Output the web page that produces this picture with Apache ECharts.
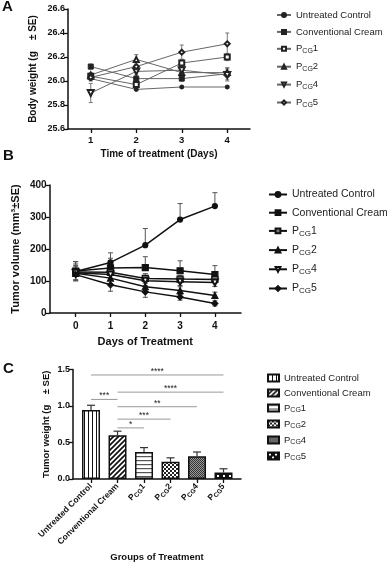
<!DOCTYPE html>
<html>
<head>
<meta charset="utf-8">
<script src="https://cdn.jsdelivr.net/npm/echarts@6/dist/echarts.min.js"></script>
<style>html,body{margin:0;padding:0;background:#fff}#chart{width:387px;height:564px}</style>
</head>
<body>
<div id="chart"></div>
<script>
var groups = ['Untreated Control', 'Conventional Cream', 'PCG1', 'PCG2', 'PCG4', 'PCG5']

// A - body weight per day
var daysA = [1, 2, 3, 4]
var bwUntreated = [26.02, 25.93, 25.95, 25.95]
var bwConv = [26.12, 26.02, 26.02, 26.06]
var bwP1 = [26.04, 25.97, 26.15, 26.20]
var bwP2 = [26.05, 26.18, 26.07, 26.07]
var bwP4 = [25.90, 26.08, 26.09, 26.05]
var bwP5 = [26.03, 26.12, 26.24, 26.31]
var bwErrUntreated = [0.02, 0.01, 0.01, 0.01]
var bwErrConv = [0.02, 0.02, 0.02, 0.05]
var bwErrP1 = [0.02, 0.02, 0.03, 0.03]
var bwErrP2 = [0.02, 0.04, 0.03, 0.04]
var bwErrP4 = [0.08, 0.03, 0.03, 0.05]
var bwErrP5 = [0.02, 0.02, 0.06, 0.09]

// B - tumor volume per day
var daysB = [0, 1, 2, 3, 4]
var tvUntreated = [130, 158, 212, 292, 334]
var tvConv = [131, 141, 142, 132, 120]
var tvP1 = [128, 127, 108, 106, 105]
var tvP2 = [124, 109, 82, 70, 55]
var tvP4 = [126, 120, 101, 98, 95]
var tvP5 = [120, 88, 66, 50, 30]
var tvErrUntreated = [30, 30, 52, 50, 42]
var tvErrConv = [30, 30, 34, 31, 28]
var tvErrP1 = [25, 20, 15, 12, 12]
var tvErrP2 = [22, 18, 15, 12, 10]
var tvErrP4 = [22, 18, 15, 12, 12]
var tvErrP5 = [20, 20, 17, 10, 8]

// C - tumor weight per group
var tw = [0.945, 0.60, 0.37, 0.235, 0.31, 0.09]
var twErr = [0.065, 0.055, 0.06, 0.055, 0.06, 0.05]
var sigFrom = [0, 0, 1, 1, 1, 1]
var sigTo = [5, 1, 5, 4, 3, 2]
var sigLevel = [1.425, 1.09, 1.19, 0.99, 0.82, 0.70]
var sigLabel = ['****', '***', '****', '**', '***', '*']

var FONT = 'Liberation Sans, Arial, sans-serif'

function fmtName (name) {
  var n = name.split('|')[1]
  if (n.indexOf('PCG') === 0) return 'P{sub|CG}' + n.slice(3)
  return n
}

function makePattern (w, h, draw) {
  var c = document.createElement('canvas')
  c.width = w
  c.height = h
  var ctx = c.getContext('2d')
  ctx.fillStyle = '#fff'
  ctx.fillRect(0, 0, w, h)
  draw(ctx)
  return { image: c, repeat: 'repeat' }
}

var patterns = [
  makePattern(4, 4, function (ctx) { ctx.fillStyle = '#111'; ctx.fillRect(0, 0, 1, 4) }),
  makePattern(5, 5, function (ctx) {
    ctx.strokeStyle = '#111'; ctx.lineWidth = 1.7
    ctx.beginPath(); ctx.moveTo(-1, 6); ctx.lineTo(6, -1); ctx.stroke()
    ctx.beginPath(); ctx.moveTo(-1, 1); ctx.lineTo(1, -1); ctx.stroke()
    ctx.beginPath(); ctx.moveTo(4, 6); ctx.lineTo(6, 4); ctx.stroke()
  }),
  makePattern(4, 4, function (ctx) { ctx.fillStyle = '#555'; ctx.fillRect(0, 0, 4, 1.2) }),
  makePattern(4, 4, function (ctx) { ctx.fillStyle = '#222'; ctx.fillRect(0, 0, 2, 2); ctx.fillRect(2, 2, 2, 2) }),
  makePattern(2, 2, function (ctx) { ctx.fillStyle = '#333'; ctx.fillRect(0, 0, 1, 1); ctx.fillRect(1, 1, 1, 1); ctx.fillStyle = '#999'; ctx.fillRect(1, 0, 1, 1); ctx.fillRect(0, 1, 1, 1) }),
  makePattern(6, 6, function (ctx) { ctx.fillStyle = '#111'; ctx.fillRect(0, 0, 6, 6); ctx.fillStyle = '#fff'; ctx.fillRect(1, 1, 2, 2); ctx.fillRect(4, 4, 2, 2) })
]

function pairs (xs, ys) { return xs.map(function (x, i) { return [x, ys[i]] }) }
function errData (xs, ys, es, upOnly) {
  return xs.map(function (x, i) { return [x, upOnly ? ys[i] : ys[i] - es[i], ys[i] + es[i], upOnly ? 0 : 1] })
}

function errRender (capW, color, lw) {
  return function (params, api) {
    var x = api.value(0)
    var lo = api.coord([x, api.value(1)])
    var hi = api.coord([x, api.value(2)])
    var style = { stroke: color, lineWidth: lw }
    var ch = [
      { type: 'line', shape: { x1: lo[0], y1: lo[1], x2: hi[0], y2: hi[1] }, style: style },
      { type: 'line', shape: { x1: hi[0] - capW, y1: hi[1], x2: hi[0] + capW, y2: hi[1] }, style: style }
    ]
    if (api.value(3)) ch.push({ type: 'line', shape: { x1: lo[0] - capW, y1: lo[1], x2: lo[0] + capW, y2: lo[1] }, style: style })
    return { type: 'group', children: ch }
  }
}

function axisCommon (fs) {
  return {
    axisLine: { show: true, onZero: false, lineStyle: { color: '#111', width: 1.5 } },
    axisTick: { show: true, length: 4, lineStyle: { color: '#111', width: 1.3 } },
    splitLine: { show: false },
    axisLabel: { color: '#111', fontWeight: 'bold', fontSize: fs, fontFamily: FONT },
    nameTextStyle: { color: '#111', fontWeight: 'bold', fontFamily: FONT }
  }
}
function mergeAxis (base, extra) {
  var o = Object.assign({}, base, extra)
  if (extra.axisLabel) o.axisLabel = Object.assign({}, base.axisLabel, extra.axisLabel)
  if (extra.axisTick) o.axisTick = Object.assign({}, base.axisTick, extra.axisTick)
  if (extra.nameTextStyle) o.nameTextStyle = Object.assign({}, base.nameTextStyle, extra.nameTextStyle)
  return o
}

var subRich = { sub: { fontSize: 7, padding: [5, 0, 0, 0], fontFamily: FONT, color: '#222' } }

var seriesA = [
  ['A|Untreated Control', bwUntreated, bwErrUntreated, 'circle', 4, 0],
  ['A|Conventional Cream', bwConv, bwErrConv, 'rect', 5, 0],
  ['A|PCG1', bwP1, bwErrP1, 'emptyRect', 5, 0],
  ['A|PCG2', bwP2, bwErrP2, 'emptyTriangle', 5, 0],
  ['A|PCG4', bwP4, bwErrP4, 'emptyTriangle', 6, 180],
  ['A|PCG5', bwP5, bwErrP5, 'emptyDiamond', 5, 0]
]
var seriesB = [
  ['B|Untreated Control', tvUntreated, tvErrUntreated, 'circle', 5, 0, true],
  ['B|Conventional Cream', tvConv, tvErrConv, 'rect', 6, 0, true],
  ['B|PCG1', tvP1, tvErrP1, 'rect', 6, 0, false],
  ['B|PCG2', tvP2, tvErrP2, 'triangle', 6, 0, false],
  ['B|PCG4', tvP4, tvErrP4, 'emptyTriangle', 6, 180, false],
  ['B|PCG5', tvP5, tvErrP5, 'diamond', 6, 0, false]
]

var series = []
seriesA.forEach(function (s) {
  series.push({ type: 'custom', xAxisIndex: 0, yAxisIndex: 0, renderItem: errRender(2, '#777', 1), data: errData(daysA, s[1], s[2], false), z: 1, silent: true })
})
seriesA.forEach(function (s) {
  series.push({
    name: s[0], type: 'line', xAxisIndex: 0, yAxisIndex: 0, data: pairs(daysA, s[1]),
    symbol: s[3], symbolSize: s[4], symbolRotate: s[5],
    lineStyle: { color: '#666', width: 1 }, itemStyle: { color: '#222', borderColor: '#222', borderWidth: 1 }, z: 3
  })
})
seriesB.forEach(function (s) {
  series.push({ type: 'custom', xAxisIndex: 1, yAxisIndex: 1, renderItem: errRender(2.5, '#555', 1), data: errData(daysB, s[1], s[2], s[6]), z: 1, silent: true })
})
seriesB.forEach(function (s, i) {
  series.push({
    name: s[0], type: 'line', xAxisIndex: 1, yAxisIndex: 1, data: pairs(daysB, s[1]),
    symbol: s[3], symbolSize: s[4], symbolRotate: s[5],
    lineStyle: { color: '#111', width: 1.5 },
    itemStyle: { color: i === 2 ? '#777' : '#111', borderColor: '#111', borderWidth: 1.2 }, z: 3
  })
})
groups.forEach(function (g, i) {
  series.push({
    name: 'C|' + g, type: 'bar', xAxisIndex: 2, yAxisIndex: 2, data: [[i, tw[i]]],
    barWidth: 18, barGap: '-100%',
    itemStyle: { color: patterns[i], borderColor: '#111', borderWidth: 1.5 }, z: 2
  })
})
series.push({ type: 'custom', xAxisIndex: 2, yAxisIndex: 2, renderItem: errRender(4, '#333', 1.2), data: errData([0, 1, 2, 3, 4, 5], tw, twErr, true), z: 1, silent: true })
series.push({
  type: 'custom', xAxisIndex: 2, yAxisIndex: 2, silent: true, z: 4,
  data: sigFrom.map(function (f, i) { return [f, sigTo[i], sigLevel[i], i] }),
  renderItem: function (params, api) {
    var a = api.coord([api.value(0), api.value(2)])
    var b = api.coord([api.value(1), api.value(2)])
    return { type: 'group', children: [
      { type: 'line', shape: { x1: a[0], y1: a[1], x2: b[0], y2: b[1] }, style: { stroke: '#999', lineWidth: 1 } },
      { type: 'text', x: (a[0] + b[0]) / 2, y: a[1] + 1, style: { text: sigLabel[api.value(3)], fill: '#222', font: '8.5px ' + FONT, align: 'center', verticalAlign: 'bottom' } }
    ] }
  }
})

var legendBase = { orient: 'vertical', selectedMode: false, formatter: fmtName, padding: 0 }

var option = {
  backgroundColor: '#fff',
  animation: false,
  grid: [
    { left: 68, top: 9, width: 182, height: 120 },
    { left: 46, top: 185, width: 195, height: 128 },
    { left: 73, top: 369.5, width: 168, height: 109.5 }
  ],
  xAxis: [
    mergeAxis(axisCommon(9.5), { type: 'value', gridIndex: 0, min: 0.5, max: 4.5,
      axisTick: { customValues: daysA }, axisLabel: { customValues: daysA, margin: 6 },
      name: 'Time of treatment (Days)', nameLocation: 'middle', nameGap: 20, nameTextStyle: { fontSize: 10 } }),
    mergeAxis(axisCommon(10), { type: 'value', gridIndex: 1, min: -0.75, max: 4.75,
      axisTick: { customValues: daysB }, axisLabel: { customValues: daysB, margin: 8 },
      name: 'Days of Treatment', nameLocation: 'middle', nameGap: 23, nameTextStyle: { fontSize: 11 } }),
    mergeAxis(axisCommon(8.5), { type: 'value', gridIndex: 2, min: -0.68, max: 5.66,
      axisTick: { customValues: [0, 1, 2, 3, 4, 5] },
      axisLabel: { customValues: [0, 1, 2, 3, 4, 5], rotate: 45, margin: 6,
        formatter: function (v) { return fmtName('C|' + groups[Math.round(v)]) },
        rich: { sub: { fontSize: 6.5, fontWeight: 'bold', padding: [4, 0, 0, 0], fontFamily: FONT, color: '#111' } } },
      name: 'Groups of Treatment', nameLocation: 'middle', nameGap: 73, nameTextStyle: { fontSize: 9.5 } })
  ],
  yAxis: [
    mergeAxis(axisCommon(9), { type: 'value', gridIndex: 0, min: 25.6, max: 26.6, interval: 0.2,
      axisLabel: { formatter: function (v) { return v.toFixed(1) }, margin: 3 },
      name: 'Body weight (g    \u00b1 SE)', nameLocation: 'middle', nameGap: 30, nameTextStyle: { fontSize: 10 } }),
    mergeAxis(axisCommon(10), { type: 'value', gridIndex: 1, min: 0, max: 400, interval: 100,
      axisLabel: { margin: 3 },
      name: 'Tumor volume (mm\u00b3\u00b1SE)', nameLocation: 'middle', nameGap: 28, nameTextStyle: { fontSize: 11 } }),
    mergeAxis(axisCommon(9), { type: 'value', gridIndex: 2, min: 0, max: 1.5, interval: 0.5,
      axisLabel: { formatter: function (v) { return v.toFixed(1) }, margin: 3 },
      name: 'Tumor weight (g    \u00b1 SE)', nameLocation: 'middle', nameGap: 22, nameTextStyle: { fontSize: 9.5 } })
  ],
  legend: [
    Object.assign({}, legendBase, { left: 276, top: 10, itemWidth: 14, itemHeight: 5, itemGap: 6.9,
      data: seriesA.map(function (s) { return s[0] }),
      textStyle: { fontSize: 9.5, color: '#222', fontFamily: FONT, rich: subRich } }),
    Object.assign({}, legendBase, { left: 268, top: 189, itemWidth: 18, itemHeight: 6, itemGap: 7.2,
      data: seriesB.map(function (s) { return s[0] }),
      textStyle: { fontSize: 10.5, color: '#222', fontFamily: FONT, rich: { sub: { fontSize: 8, padding: [5, 0, 0, 0], fontFamily: FONT, color: '#222' } } } }),
    Object.assign({}, legendBase, { left: 267, top: 373, itemWidth: 11, itemHeight: 7, itemGap: 5, icon: 'rect',
      data: groups.map(function (g) { return 'C|' + g }),
      textStyle: { fontSize: 9.5, color: '#222', fontFamily: FONT, rich: subRich } })
  ],
  graphic: [
    { type: 'text', left: 2, top: -1, style: { text: 'A', font: 'bold 15px ' + FONT, fill: '#111' } },
    { type: 'text', left: 3, top: 148, style: { text: 'B', font: 'bold 15px ' + FONT, fill: '#111' } },
    { type: 'text', left: 3, top: 361, style: { text: 'C', font: 'bold 15px ' + FONT, fill: '#111' } }
  ],
  series: series
}

var chart = echarts.init(document.getElementById('chart'), null, { renderer: 'canvas' })
chart.setOption(option)
</script>
</body>
</html>
